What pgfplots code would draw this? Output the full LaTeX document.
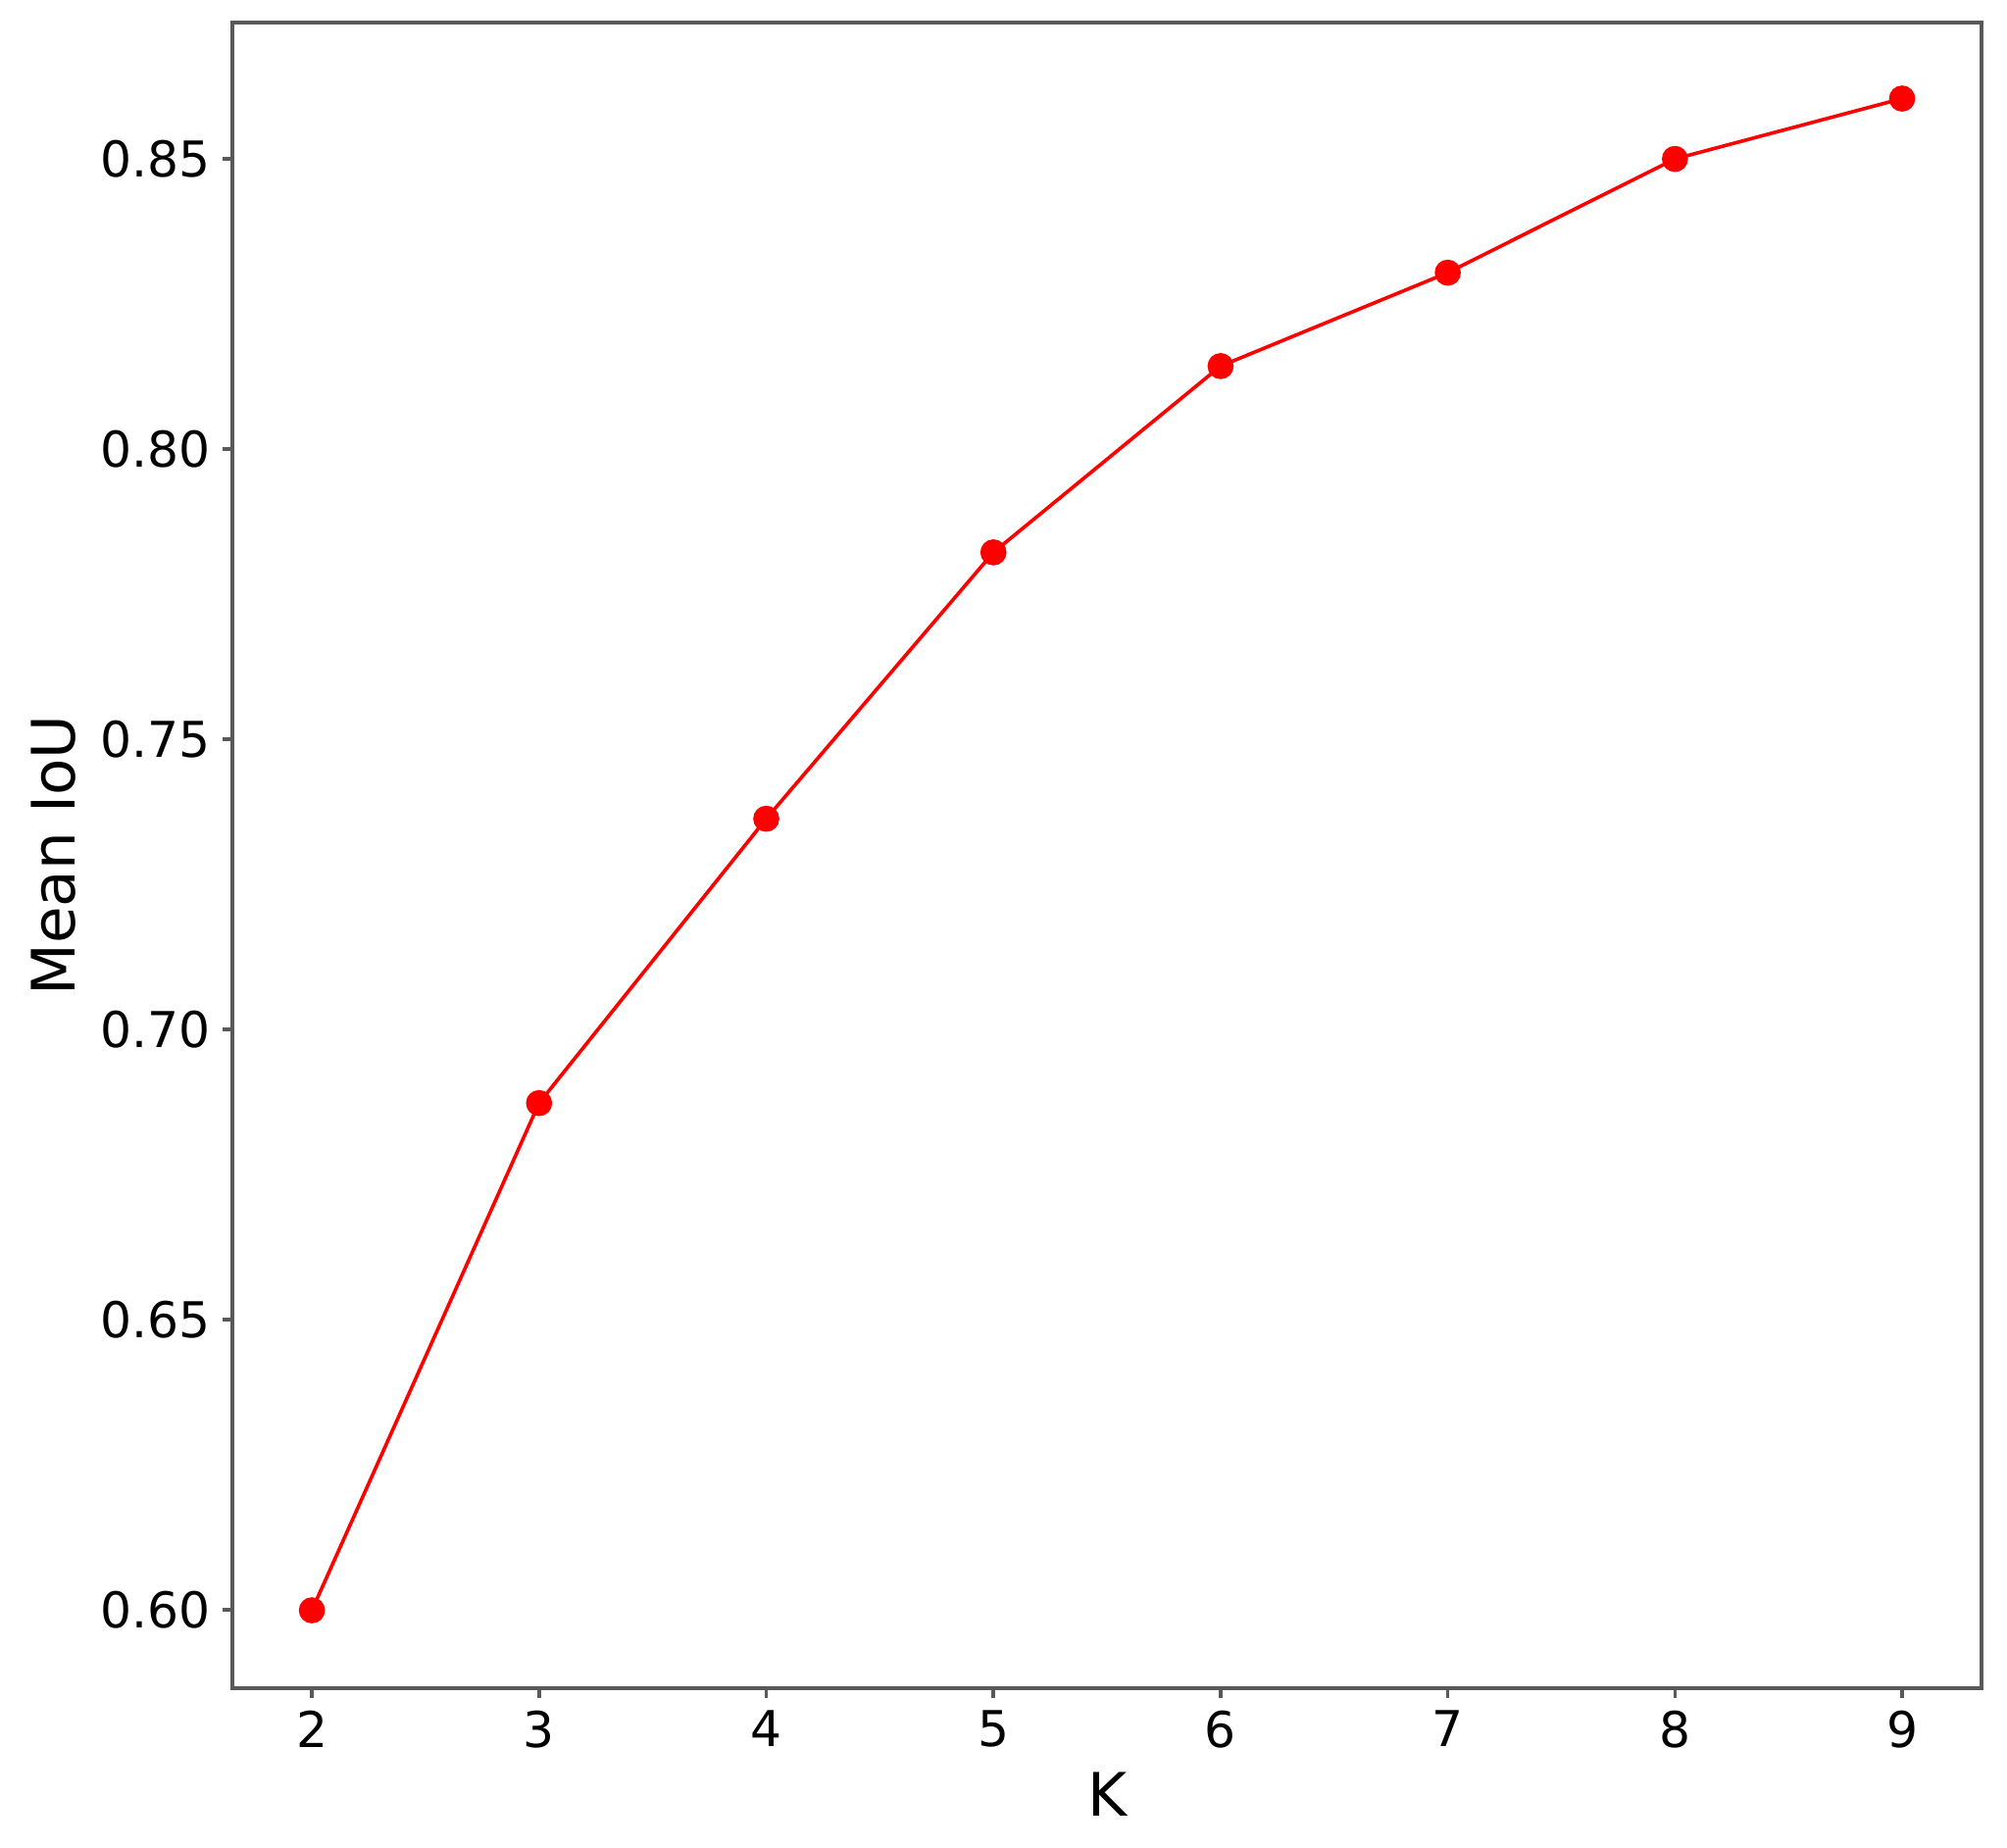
\documentclass[border=0pt]{standalone}
\usepackage{fontspec}
\setmainfont{DejaVu Sans}
\usepackage{pgfplots}
\pgfplotsset{compat=1.18}
\usetikzlibrary{calc}

\definecolor{spine}{gray}{0.35}

\begin{document}
\begin{tikzpicture}
\begin{axis}[
    name=ax,
    scale only axis,
    width=496pt,
    height=472.3pt,
    xmin=1.65, xmax=9.35,
    ymin=0.5865, ymax=0.8735,
    xtick={2,3,4,5,6,7,8,9},
    ytick={0.60,0.65,0.70,0.75,0.80,0.85},
    yticklabel style={/pgf/number format/.cd, fixed, fixed zerofill, precision=2},
    /pgf/number format/assume math mode=true,
    axis line style={spine, line width=1pt},
    tick style={spine, line width=1pt},
    tick align=outside,
    major tick length=2.8pt,
    xtick pos=bottom,
    ytick pos=left,
    ticklabel style={font=\fontsize{14}{16}\selectfont, text=black},
    xlabel={K},
    ylabel={Mean IoU},
    label style={font=\fontsize{17}{20}\selectfont},
    xlabel style={at={(axis description cs:0.5,-0.0771)}, anchor=base},
    ylabel style={at={(axis description cs:-0.0897,0.5)}, anchor=base},
]
\addplot[color=red, line width=1pt, mark=*, mark size=3.2pt, mark options={solid, fill=red, draw=red}]
    coordinates {
        (2,0.5999)(3,0.6873)(4,0.7363)(5,0.7822)
        (6,0.8143)(7,0.8304)(8,0.8500)(9,0.8604)
    };
\end{axis}
\path ($(ax.south west)+(-65.9pt,-45.3pt)$) rectangle ($(ax.north east)+(7.2pt,6.4pt)$);
\end{tikzpicture}
\end{document}
